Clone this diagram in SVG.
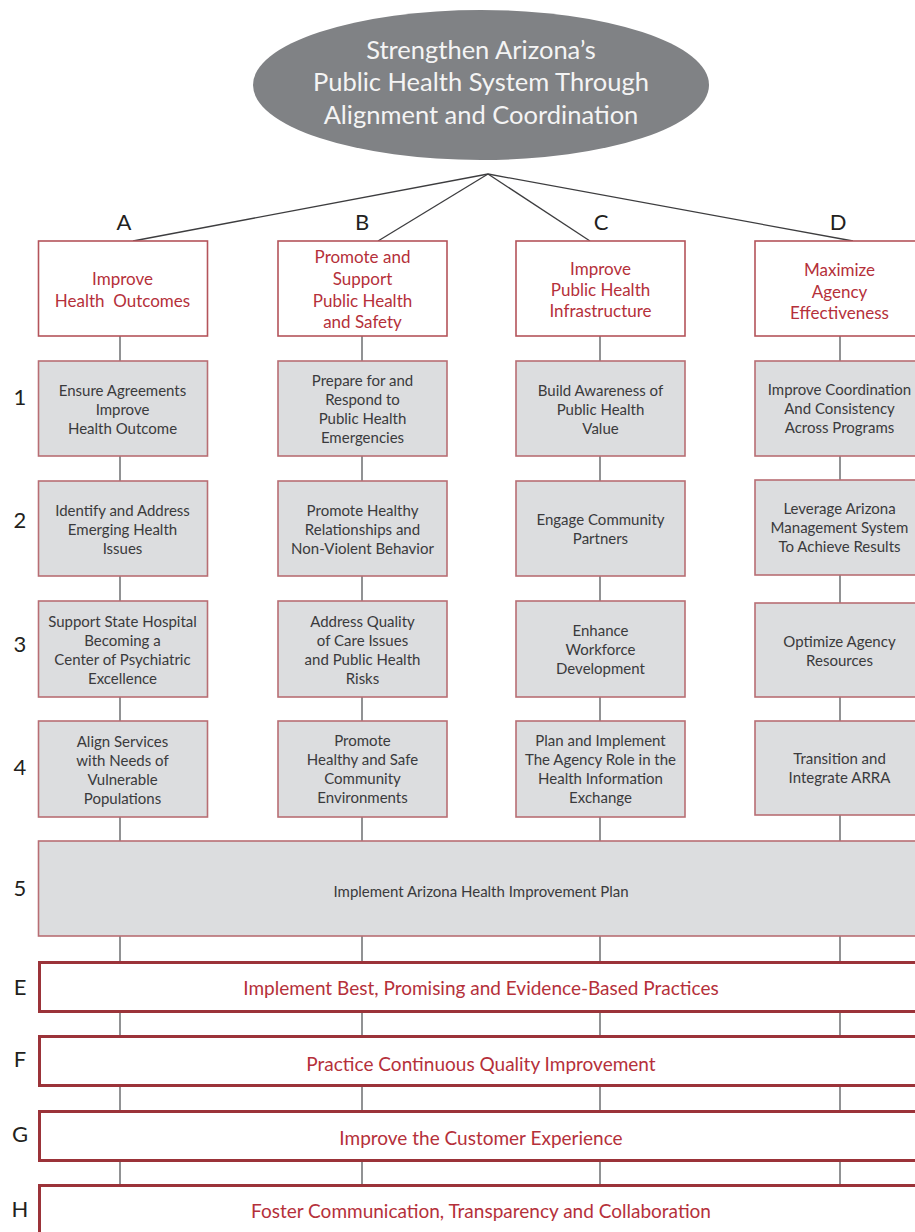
<svg xmlns="http://www.w3.org/2000/svg" width="915" height="1232" viewBox="0 0 915 1232">
<style>
text{font-family:Lato,"Open Sans","Liberation Sans",sans-serif;text-anchor:middle}
.title{font-size:25.5px;fill:#f4f4f4}
.col{font-size:22px;fill:#231f20}
.num{font-size:22px;fill:#231f20}
.hdr rect{fill:#fff;stroke:#b4545b;stroke-width:1.6}
.hdr text{font-size:17px;fill:#b5303a;white-space:pre}
.obj rect{fill:#dcdddf;stroke:#b86e74;stroke-width:1.6}
.obj text{font-size:15px;fill:#3a3a3c}
.bar rect{fill:#fff;stroke:#9b3339;stroke-width:3}
.bar text{font-size:19px;fill:#b5303a}
.con line{stroke:#6d6e71;stroke-width:1.5}
.con .top{stroke:#3d3d3f;stroke-width:1.3}
</style>

<g id="connectors" class="con">
  <line class="top" x1="488" y1="174" x2="133" y2="241"/>
  <line class="top" x1="488" y1="174" x2="378" y2="241"/>
  <line class="top" x1="488" y1="174" x2="590" y2="241"/>
  <line class="top" x1="488" y1="174" x2="853" y2="241"/>
  <line x1="120" y1="336" x2="120" y2="1184"/>
  <line x1="362" y1="336" x2="362" y2="1184"/>
  <line x1="600" y1="336" x2="600" y2="1184"/>
  <line x1="840" y1="336" x2="840" y2="1184"/>
</g>

<g id="goal">
  <ellipse cx="481" cy="85" rx="228" ry="75" fill="#808285"/>
  <text class="title" x="481" y="59">Strengthen Arizona’s</text>
  <text class="title" x="481" y="91">Public Health System Through</text>
  <text class="title" x="481" y="124">Alignment and Coordination</text>
</g>

<g id="col-labels">
  <text class="col" x="124" y="230">A</text>
  <text class="col" x="362" y="230">B</text>
  <text class="col" x="601" y="230">C</text>
  <text class="col" x="838" y="230">D</text>
</g>

<g id="row-labels">
  <text class="num" x="20" y="405">1</text>
  <text class="num" x="20" y="528">2</text>
  <text class="num" x="20" y="652">3</text>
  <text class="num" x="20" y="775">4</text>
  <text class="num" x="20" y="896">5</text>
  <text class="num" x="20" y="995">E</text>
  <text class="num" x="20" y="1067">F</text>
  <text class="num" x="20" y="1142">G</text>
  <text class="num" x="20" y="1217">H</text>
</g>

<!-- Headers -->
<g id="hdr-A" class="hdr">
  <rect x="38.5" y="241" width="169" height="95"/>
  <text x="122.5" y="285">Improve</text>
  <text x="122.5" y="307">Health  Outcomes</text>
</g>
<g id="hdr-B" class="hdr">
  <rect x="278" y="241" width="169" height="95"/>
  <text x="362.5" y="263">Promote and</text>
  <text x="362.5" y="285">Support</text>
  <text x="362.5" y="307">Public Health</text>
  <text x="362.5" y="328">and Safety</text>
</g>
<g id="hdr-C" class="hdr">
  <rect x="516" y="241" width="169" height="95"/>
  <text x="600.5" y="275">Improve</text>
  <text x="600.5" y="296">Public Health</text>
  <text x="600.5" y="317">Infrastructure</text>
</g>
<g id="hdr-D" class="hdr">
  <rect x="755" y="241" width="169" height="95"/>
  <text x="839.5" y="276">Maximize</text>
  <text x="839.5" y="298">Agency</text>
  <text x="839.5" y="319">Effectiveness</text>
</g>

<!-- Row 1 -->
<g id="A1" class="obj">
  <rect x="38.5" y="361" width="169" height="95"/>
  <text x="122.5" y="396">Ensure Agreements</text>
  <text x="122.5" y="415">Improve</text>
  <text x="122.5" y="434">Health Outcome</text>
</g>
<g id="B1" class="obj">
  <rect x="278" y="361" width="169" height="95"/>
  <text x="362.5" y="386">Prepare for and</text>
  <text x="362.5" y="405">Respond to</text>
  <text x="362.5" y="424">Public Health</text>
  <text x="362.5" y="443">Emergencies</text>
</g>
<g id="C1" class="obj">
  <rect x="516" y="361" width="169" height="95"/>
  <text x="600.5" y="396">Build Awareness of</text>
  <text x="600.5" y="415">Public Health</text>
  <text x="600.5" y="434">Value</text>
</g>
<g id="D1" class="obj">
  <rect x="755" y="361" width="169" height="95"/>
  <text x="839.5" y="395">Improve Coordination</text>
  <text x="839.5" y="414">And Consistency</text>
  <text x="839.5" y="433">Across Programs</text>
</g>

<!-- Row 2 -->
<g id="A2" class="obj">
  <rect x="38.5" y="481" width="169" height="95"/>
  <text x="122.5" y="516">Identify and Address</text>
  <text x="122.5" y="535">Emerging Health</text>
  <text x="122.5" y="554">Issues</text>
</g>
<g id="B2" class="obj">
  <rect x="278" y="481" width="169" height="95"/>
  <text x="362.5" y="516">Promote Healthy</text>
  <text x="362.5" y="535">Relationships and</text>
  <text x="362.5" y="554">Non-Violent Behavior</text>
</g>
<g id="C2" class="obj">
  <rect x="516" y="481" width="169" height="95"/>
  <text x="600.5" y="525">Engage Community</text>
  <text x="600.5" y="544">Partners</text>
</g>
<g id="D2" class="obj">
  <rect x="755" y="480" width="169" height="95"/>
  <text x="839.5" y="514">Leverage Arizona</text>
  <text x="839.5" y="533">Management System</text>
  <text x="839.5" y="552">To Achieve Results</text>
</g>

<!-- Row 3 -->
<g id="A3" class="obj">
  <rect x="38.5" y="601" width="169" height="96"/>
  <text x="122.5" y="627">Support State Hospital</text>
  <text x="122.5" y="646">Becoming a</text>
  <text x="122.5" y="665">Center of Psychiatric</text>
  <text x="122.5" y="684">Excellence</text>
</g>
<g id="B3" class="obj">
  <rect x="278" y="601" width="169" height="96"/>
  <text x="362.5" y="627">Address Quality</text>
  <text x="362.5" y="646">of Care Issues</text>
  <text x="362.5" y="665">and Public Health</text>
  <text x="362.5" y="684">Risks</text>
</g>
<g id="C3" class="obj">
  <rect x="516" y="601" width="169" height="96"/>
  <text x="600.5" y="636">Enhance</text>
  <text x="600.5" y="655">Workforce</text>
  <text x="600.5" y="674">Development</text>
</g>
<g id="D3" class="obj">
  <rect x="755" y="603" width="169" height="94"/>
  <text x="839.5" y="647">Optimize Agency</text>
  <text x="839.5" y="666">Resources</text>
</g>

<!-- Row 4 -->
<g id="A4" class="obj">
  <rect x="38.5" y="721" width="169" height="96"/>
  <text x="122.5" y="747">Align Services</text>
  <text x="122.5" y="766">with Needs of</text>
  <text x="122.5" y="785">Vulnerable</text>
  <text x="122.5" y="804">Populations</text>
</g>
<g id="B4" class="obj">
  <rect x="278" y="721" width="169" height="96"/>
  <text x="362.5" y="746">Promote</text>
  <text x="362.5" y="765">Healthy and Safe</text>
  <text x="362.5" y="784">Community</text>
  <text x="362.5" y="803">Environments</text>
</g>
<g id="C4" class="obj">
  <rect x="516" y="721" width="169" height="96"/>
  <text x="600.5" y="746">Plan and Implement</text>
  <text x="600.5" y="765">The Agency Role in the</text>
  <text x="600.5" y="784">Health Information</text>
  <text x="600.5" y="803">Exchange</text>
</g>
<g id="D4" class="obj">
  <rect x="755" y="721" width="169" height="94"/>
  <text x="839.5" y="764">Transition and</text>
  <text x="839.5" y="783">Integrate ARRA</text>
</g>

<!-- Row 5 -->
<g id="row5" class="obj">
  <rect x="38.5" y="841" width="890" height="95"/>
  <text x="481" y="897">Implement Arizona Health Improvement Plan</text>
</g>

<!-- Bars E-H -->
<g id="barE" class="bar">
  <rect x="39.5" y="962.5" width="890" height="49"/>
  <text x="481" y="995">Implement Best, Promising and Evidence-Based Practices</text>
</g>
<g id="barF" class="bar">
  <rect x="39.5" y="1036.5" width="890" height="49"/>
  <text x="481" y="1071">Practice Continuous Quality Improvement</text>
</g>
<g id="barG" class="bar">
  <rect x="39.5" y="1111.5" width="890" height="49"/>
  <text x="481" y="1145">Improve the Customer Experience</text>
</g>
<g id="barH" class="bar">
  <rect x="39.5" y="1185.5" width="890" height="60"/>
  <text x="481" y="1218">Foster Communication, Transparency and Collaboration</text>
</g>
</svg>
